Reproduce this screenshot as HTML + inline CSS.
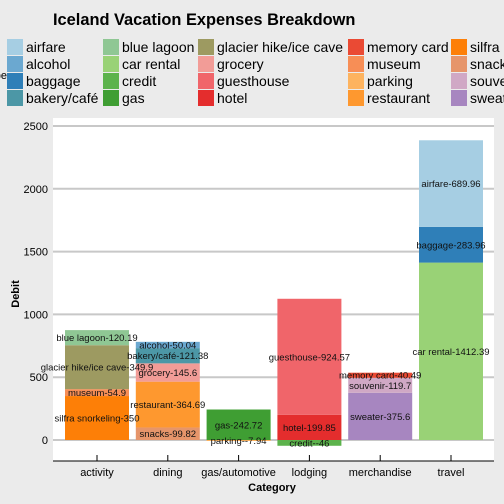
<!DOCTYPE html>
<html><head><meta charset="utf-8"><style>
body{margin:0;background:#ebebeb;}
svg{display:block;font-family:"Liberation Sans",sans-serif;}
</style></head><body>
<svg id="chart" width="504" height="504" xmlns="http://www.w3.org/2000/svg">
<rect x="0" y="0" width="504" height="504" fill="#ebebeb"/>
<text x="53" y="25" font-size="16.4" font-weight="bold" fill="#000">Iceland Vacation Expenses Breakdown</text>
<text x="7" y="79" font-size="11" text-anchor="end" fill="#000">type</text>
<g id="legend"></g>
<rect x="53" y="118" width="441" height="343" fill="#ffffff"/>
<g id="grid"></g>
<g id="bars"></g>
<g id="axes"></g>
<text x="272" y="491" font-size="11" font-weight="bold" text-anchor="middle">Category</text>
<text x="0" y="0" font-size="11" font-weight="bold" text-anchor="middle" transform="translate(19,294) rotate(-90)">Debit</text>
</svg>
<script>
const categories=["activity","dining","gas/automotive","lodging","merchandise","travel"];
const segCategory=["activity","activity","activity","activity","dining","dining","dining","dining","dining","gas/automotive","gas/automotive","lodging","lodging","lodging","merchandise","merchandise","merchandise","travel","travel","travel"];
const segType=["blue lagoon","glacier hike/ice cave","museum","silfra snorkeling","alcohol","bakery/café","grocery","restaurant","snacks","gas","parking","guesthouse","hotel","credit","memory card","souvenir","sweater","airfare","baggage","car rental"];
const segValue=[120.19,349.9,54.9,350,50.04,121.38,145.6,364.69,99.82,242.72,-7.94,924.57,199.85,-46,40.49,119.7,375.6,689.96,283.96,1412.39];
const yTicks=[0,500,1000,1500,2000,2500];
const legendTypes=["airfare","alcohol","baggage","bakery/café","blue lagoon","car rental","credit","gas","glacier hike/ice cave","grocery","guesthouse","hotel","memory card","museum","parking","restaurant","silfra snorkeling","snacks","souvenir","sweater"];
const legendLabels=["airfare","alcohol","baggage","bakery/café","blue lagoon","car rental","credit","gas","glacier hike/ice cave","grocery","guesthouse","hotel","memory card","museum","parking","restaurant","silfra","snacks","souvenir","sweater"];
const colors={"airfare":"#a6cee3","alcohol":"#6ba8d0","baggage":"#2f7fb8","bakery/café":"#4c97a6","blue lagoon":"#8fc794","car rental":"#99d276","credit":"#5cb34c","gas":"#3f9e33","glacier hike/ice cave":"#9d9a61","grocery":"#f29c97","guesthouse":"#f0656a","hotel":"#e42d2d","memory card":"#ea4a34","museum":"#f78e56","parking":"#fdb35f","restaurant":"#fe982f","silfra snorkeling":"#fd7f07","snacks":"#e6956a","souvenir":"#d0a8c5","sweater":"#a786c0"};
const NS="http://www.w3.org/2000/svg";
const left=53,right=494,y0=440,yScale=314/2500;
const step=70.8,first=97,bw=64;
function x(c){return first+categories.indexOf(c)*step;}
function y(v){return y0-v*yScale;}
function mk(tag,attrs,parent){const e=document.createElementNS(NS,tag);for(const k in attrs)e.setAttribute(k,attrs[k]);parent.appendChild(e);return e;}
const grid=document.getElementById('grid'),bars=document.getElementById('bars'),axes=document.getElementById('axes'),legend=document.getElementById('legend');
yTicks.forEach(t=>{
 const l=mk('line',{x1:left,x2:right,y1:y(t),y2:y(t),stroke:'#c8c8c8','stroke-width':2},grid);
 
 
 const tx=mk('text',{x:48,y:y(t)+4,'font-size':11,'text-anchor':'end',fill:'#000'},axes);
 tx.textContent=t;
 
 
});
const posTop={},negBot={};
categories.forEach(c=>{posTop[c]=0;negBot[c]=0;});
const labels=[];
for(let i=segValue.length-1;i>=0;i--){
 const c=segCategory[i],v=segValue[i];let a,b;
 if(v>=0){a=posTop[c];b=a+v;posTop[c]=b;}else{a=negBot[c];b=a+v;negBot[c]=b;}
 const r=mk('rect',{x:x(c)-bw/2,y:y(Math.max(a,b)),width:bw,height:Math.abs(b-a)*yScale,fill:colors[segType[i]]},bars);
 
 
 labels.push([x(c),y((a+b)/2),segType[i]+'-'+segValue[i]]);
}
labels.forEach(L=>{
 const t=mk('text',{x:L[0],y:L[1]+3.5,'font-size':9.5,'text-anchor':'middle',fill:'#111'},bars);
 t.textContent=L[2];
 
 
});
const ax=mk('line',{x1:left,x2:right,y1:461,y2:461,stroke:'#000','stroke-width':1},axes);


categories.forEach(c=>{
 const tk=mk('line',{x1:x(c),x2:x(c),y1:455,y2:461,stroke:'#000'},axes);
 
 
 const t=mk('text',{x:x(c),y:476,'font-size':11,'text-anchor':'middle',fill:'#000'},axes);
 t.textContent=c;
 
 
});
const colX=[7,103,198,348,451];
legendTypes.forEach((tp,i)=>{
 const col=Math.floor(i/4),row=i%4;
 const ky=39+row*17;
 const k=mk('rect',{x:colX[col],y:ky,width:16,height:16,fill:colors[tp]},legend);
 
 
 const t=mk('text',{x:colX[col]+19,y:ky+13,'font-size':14,fill:'#000'},legend);
 t.textContent=legendLabels[i];
 
 
});
</script>
</body></html>
